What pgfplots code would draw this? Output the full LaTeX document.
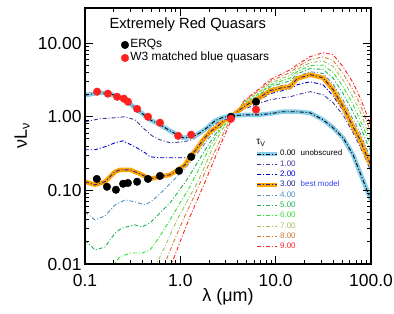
\documentclass[border=0pt]{standalone}
\usepackage{fontspec}
\setmainfont{Liberation Sans}
\usepackage{pgfplots}
\usepackage{pgfplotstable}
\pgfplotsset{compat=1.18}

\definecolor{c0}{HTML}{87CEEB}
\definecolor{c1}{HTML}{3C3CA0}
\definecolor{c2}{HTML}{0000D0}
\definecolor{c3}{HTML}{FFA500}
\definecolor{c3d}{HTML}{23238C}
\definecolor{c4}{HTML}{4F8FBF}
\definecolor{c5}{HTML}{20B050}
\definecolor{c6}{HTML}{30E030}
\definecolor{c7}{HTML}{A0C060}
\definecolor{c8}{HTML}{D07830}
\definecolor{c9}{HTML}{FF2020}
\definecolor{bm}{HTML}{3344EE}

\tikzset{dd/.style={dash pattern=on 4bp off 2bp on 1bp off 2bp, line width=0.9bp}}
\pgfplotsset{
  dotleg/.style={legend image code/.code={\draw[##1] plot coordinates {(0bp,0bp)};}},
  lineleg/.style={legend image code/.code={\draw[##1] (0bp,0bp) -- (20bp,0bp);}},
  skyleg/.style={legend image code/.code={\draw[c0, line width=3.5bp] (0bp,0bp) -- (20bp,0bp); \draw[black, dd] (0bp,0bp) -- (20bp,0bp);}},
  orleg/.style={legend image code/.code={\draw[c3, line width=3.5bp] (0bp,0bp) -- (20bp,0bp); \draw[c3d, dd] (0bp,0bp) -- (20bp,0bp);}},
}

\pgfplotstableread{
x y
0.100 0.131
0.127 0.119
0.162 0.131
0.207 0.179
0.233 0.190
0.297 0.190
0.378 0.168
0.481 0.143
0.612 0.153
0.780 0.163
0.946 0.190
1.12 0.222
1.26 0.286
1.46 0.356
1.73 0.486
2.05 0.625
2.43 0.73
2.94 0.91
3.40 1.0
4.77 1.41
6.53 1.76
8.73 2.26
11.7 2.48
14.2 2.56
16.8 3.29
23.0 3.73
31.4 3.39
40.0 2.33
50.9 1.37
64.9 0.73
76.9 0.486
88.9 0.304
100 0.222
}\tauthree

\pgfplotstableread{
x y
0.100 1.97
0.144 2.12
0.183 2.06
0.233 1.81
0.297 1.50
0.378 1.17
0.481 0.91
0.612 0.78
0.780 0.645
1.07 0.518
1.36 0.534
1.61 0.606
1.91 0.71
2.31 0.882
2.74 0.97
3.33 1.03
4.77 1.06
6.53 1.06
8.73 1.10
11.7 1.17
14.2 1.17
16.8 1.17
23.0 1.13
31.4 0.91
40.0 0.71
50.9 0.518
64.9 0.304
76.9 0.173
88.9 0.108
100 0.0743
}\tauzero

\begin{document}
\begin{tikzpicture}
\useasboundingbox (0,0) rectangle (394bp,314bp);
\begin{axis}[
  at={(85bp,50bp)}, anchor=south west,
  scale only axis, width=286bp, height=256bp,
  xmode=log, ymode=log,
  xmin=0.1, xmax=100, ymin=0.01, ymax=30,
  xtick={0.1,1,10,100}, xticklabels={0.1,1.0,10.0,100.0},
  ytick={0.01,0.1,1,10}, yticklabels={0.01,0.10,1.00,10.00},
  tick label style={font=\fontsize{17.5}{20}\selectfont},
  /pgf/number format/assume math mode=true,
  xticklabel style={yshift=-7bp},
  major tick length=8bp, minor tick length=4bp,
  tick style={black, line width=1bp},
  axis line style={line width=1.5bp},
  axis on top=true,
  xlabel={λ (μm)}, ylabel={νL\textsubscript{ν}},
  every axis x label/.style={at={(rel axis cs:0.5,-0.1289)}, anchor=center, font=\fontsize{18}{20}\selectfont},
  every axis y label/.style={at={(rel axis cs:-0.2028,0.5)}, anchor=base, rotate=90, font=\fontsize{18}{20}\selectfont},
  legend style={at={(rel axis cs:0.1266,0.881)}, anchor=north west, draw=none, fill=none,
    inner sep=0pt, outer sep=0pt, font=\fontsize{12}{13}\selectfont, row sep=0pt, column sep=0.5bp,
    nodes={inner sep=1bp, text height=8.5bp, text depth=2.5bp}},
  legend cell align=left,
]
% tau = 9
\addplot[c9, dd, forget plot] coordinates {(0.79,0.0090)(0.818,0.0103)(1.01,0.0212)(1.26,0.0436)(1.73,0.112)(2.43,0.324)(3.09,0.666)(3.57,1.0)(4.77,1.70)(6.53,2.33)(8.73,3.19)(11.7,3.84)(14.2,4.36)(16.8,5.10)(23.0,6.55)(31.4,7.43)(40.0,6.98)(50.9,4.79)(64.9,2.90)(76.9,1.81)(88.9,1.13)(100,0.73)};
% tau = 8
\addplot[c8, dd, forget plot] coordinates {(0.66,0.0090)(0.691,0.0103)(0.859,0.0206)(1.07,0.0397)(1.31,0.0698)(1.61,0.126)(1.96,0.216)(2.43,0.391)(2.94,0.666)(3.49,1.0)(4.77,1.65)(6.53,2.22)(8.73,3.01)(11.7,3.58)(14.2,3.99)(16.8,4.75)(23.0,5.97)(31.4,6.51)(40.0,5.82)(50.9,3.88)(64.9,2.31)(76.9,1.46)(88.9,0.91)(100,0.60)};
% tau = 7
\addplot[c7, dd, forget plot] coordinates {(0.54,0.0090)(0.569,0.0103)(0.725,0.0199)(0.923,0.0397)(1.17,0.0698)(1.50,0.126)(1.82,0.216)(2.20,0.391)(2.74,0.666)(3.49,1.0)(4.77,1.60)(6.53,2.12)(8.73,2.84)(11.7,3.32)(14.2,3.65)(16.8,4.40)(23.0,5.43)(31.4,5.72)(40.0,4.83)(50.9,3.16)(64.9,1.83)(76.9,1.17)(88.9,0.73)(100,0.491)};
% tau = 6
\addplot[c6, dd, forget plot] coordinates {(0.190,0.0090)(0.233,0.0125)(0.297,0.0141)(0.396,0.0141)(0.481,0.0155)(0.612,0.024)(0.780,0.0397)(0.993,0.0676)(1.26,0.112)(1.61,0.209)(2.05,0.391)(2.61,0.666)(3.49,1.0)(4.77,1.55)(6.53,2.02)(8.73,2.68)(11.7,3.09)(14.2,3.34)(16.8,4.09)(23.0,4.94)(31.4,5.02)(40.0,4.03)(50.9,2.56)(64.9,1.46)(76.9,0.91)(88.9,0.587)(100,0.403)};
% tau = 5
\addplot[c5, dd, forget plot] coordinates {(0.100,0.0212)(0.127,0.0155)(0.162,0.0170)(0.207,0.0264)(0.245,0.0309)(0.335,0.0340)(0.396,0.0319)(0.481,0.0361)(0.584,0.0464)(0.780,0.0676)(1.17,0.139)(1.91,0.391)(2.43,0.625)(2.94,0.855)(3.49,1.0)(4.77,1.50)(6.53,1.93)(8.73,2.54)(11.7,2.87)(14.2,3.06)(16.8,3.81)(23.0,4.50)(31.4,4.40)(40.0,3.36)(50.9,2.07)(64.9,1.16)(76.9,0.754)(88.9,0.471)(100,0.331)};
% tau = 4
\addplot[c4, dd, forget plot] coordinates {(0.100,0.051)(0.127,0.0397)(0.162,0.045)(0.207,0.0635)(0.263,0.0743)(0.335,0.0698)(0.427,0.0635)(0.505,0.072)(0.612,0.090)(0.780,0.123)(0.993,0.168)(1.26,0.237)(1.61,0.356)(2.05,0.534)(2.61,0.78)(3.40,1.0)(4.77,1.46)(6.53,1.84)(8.73,2.39)(11.7,2.67)(14.2,2.79)(16.8,3.53)(23.0,4.09)(31.4,3.87)(40.0,2.79)(50.9,1.69)(64.9,0.919)(76.9,0.606)(88.9,0.379)(100,0.271)};
% tau = 2
\addplot[c2, dd, forget plot] coordinates {(0.100,0.356)(0.127,0.356)(0.162,0.391)(0.207,0.443)(0.250,0.471)(0.335,0.391)(0.427,0.324)(0.481,0.286)(0.612,0.277)(0.780,0.277)(1.17,0.277)(1.43,0.324)(1.61,0.391)(1.91,0.518)(2.20,0.666)(2.61,0.855)(3.09,0.97)(3.40,1.0)(4.77,1.37)(6.53,1.65)(8.73,2.06)(11.7,2.26)(14.2,2.40)(16.8,2.72)(23.0,2.99)(31.4,2.72)(40.0,1.93)(50.9,1.21)(64.9,0.666)(76.9,0.443)(88.9,0.277)(100,0.202)};
% tau = 1
\addplot[c1, dd, forget plot] coordinates {(0.100,0.855)(0.144,0.94)(0.207,0.97)(0.263,1.0)(0.335,0.91)(0.427,0.666)(0.505,0.551)(0.612,0.486)(0.780,0.443)(1.07,0.457)(1.33,0.486)(1.61,0.569)(2.05,0.71)(2.43,0.83)(2.94,0.94)(3.40,1.0)(4.77,1.28)(6.53,1.50)(8.73,1.70)(11.7,1.81)(14.2,1.87)(16.8,1.99)(23.0,2.19)(31.4,1.99)(40.0,1.55)(50.9,1.06)(64.9,0.606)(76.9,0.391)(88.9,0.26)(100,0.179)};
% tau = 3 best model
\addplot[c3, line width=4.5bp, forget plot] table {\tauthree};
\addplot[c3d, dd, forget plot] table {\tauthree};
% tau = 0 unobscured
\addplot[c0, line width=4.5bp, forget plot] table {\tauzero};
\addplot[black, dd, forget plot] table {\tauzero};
% data points
\addplot[only marks, mark=*, mark size=3.8bp, draw=black, fill=black, dotleg] coordinates {(0.133,0.143)(0.170,0.112)(0.211,0.102)(0.251,0.123)(0.282,0.126)(0.352,0.131)(0.458,0.143)(0.612,0.157)(0.97,0.184)(1.30,0.286)(3.40,1.0)(6.22,1.60)};
\addplot[only marks, mark=*, mark size=3.8bp, draw=c9, fill=c9, dotleg] coordinates {(0.134,2.19)(0.174,2.06)(0.217,1.87)(0.256,1.76)(0.282,1.60)(0.352,1.28)(0.458,1.0)(0.612,0.83)(0.95,0.55)(1.30,0.57)(3.40,0.94)(6.22,1.25)};
\legend{ERQs, W3 matched blue quasars}
\node[anchor=west, font=\fontsize{14.8}{16}\selectfont] at (rel axis cs:0.0734,0.9336) {Extremely Red Quasars};
\node[font=\fontsize{10}{11}\selectfont] at (rel axis cs:0.615,0.473) {τ\textsubscript{V}};
\end{axis}
\begin{axis}[
  at={(85bp,50bp)}, anchor=south west,
  scale only axis, width=286bp, height=256bp,
  hide axis, xmin=0, xmax=1, ymin=0, ymax=1,
  legend style={at={(rel axis cs:0.5944,0.4498)}, anchor=north west, draw=none, fill=none,
    inner sep=0pt, outer sep=0pt, font=\fontsize{8}{9}\selectfont, row sep=0pt, column sep=0.5bp,
    nodes={inner sep=1.15bp, text height=6bp, text depth=2bp}},
  legend cell align=left,
]
\addlegendimage{skyleg}
\addlegendentry{0.00\hspace{5bp}unobscured}
\addlegendimage{c1, dd, lineleg}
\addlegendentry{\textcolor{c1}{1.00}}
\addlegendimage{c2, dd, lineleg}
\addlegendentry{\textcolor{c2}{2.00}}
\addlegendimage{orleg}
\addlegendentry{\textcolor{c3d}{3.00}\hspace{5bp}\textcolor{bm}{best model}}
\addlegendimage{c4, dd, lineleg}
\addlegendentry{\textcolor{c4}{4.00}}
\addlegendimage{c5, dd, lineleg}
\addlegendentry{\textcolor{c5}{5.00}}
\addlegendimage{c6, dd, lineleg}
\addlegendentry{\textcolor{c6}{6.00}}
\addlegendimage{c7, dd, lineleg}
\addlegendentry{\textcolor{c7}{7.00}}
\addlegendimage{c8, dd, lineleg}
\addlegendentry{\textcolor{c8}{8.00}}
\addlegendimage{c9, dd, lineleg}
\addlegendentry{\textcolor{c9}{9.00}}
\end{axis}
\end{tikzpicture}
\end{document}
